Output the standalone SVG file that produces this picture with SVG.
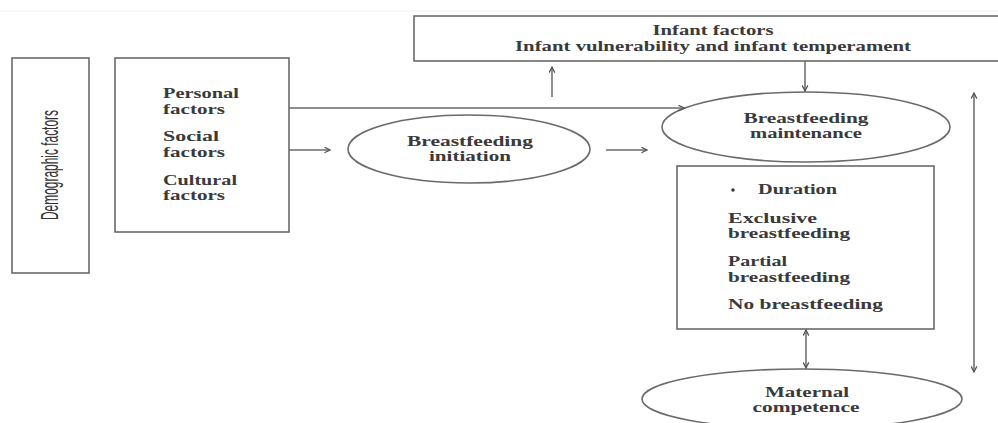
<svg xmlns="http://www.w3.org/2000/svg" width="998" height="423" viewBox="0 0 998 423">
<defs>
<style>
.box{fill:#fff;stroke:#6a6a6a;stroke-width:1.6}
.ln{fill:none;stroke:#6a6a6a;stroke-width:1.5}
.t{font-family:"Liberation Serif","Times New Roman",serif;font-weight:bold;font-size:15px;fill:#3a3a3a}
.e{font-size:14px}
.tc{text-anchor:middle}
.d{font-family:"Liberation Sans",Arial,sans-serif;font-size:24px;fill:#333}
</style>
<marker id="ah" viewBox="0 0 10 10" refX="9" refY="5" markerWidth="7" markerHeight="7" orient="auto-start-reverse" markerUnits="userSpaceOnUse">
<path d="M1,1 L9,5 L1,9" fill="none" stroke="#555" stroke-width="1.8"/>
</marker>
</defs>
<rect width="998" height="423" fill="#fff"/>
<line x1="0" y1="11" x2="998" y2="11" stroke="#f0f0f0" stroke-width="1"/>

<g id="demographic">
<rect class="box" x="12" y="58" width="77" height="215"/>
<text class="d" transform="translate(58,165) rotate(-90)" text-anchor="middle" textLength="110" lengthAdjust="spacingAndGlyphs">Demographic factors</text>
</g>

<g id="factors">
<rect class="box" x="115" y="58" width="174" height="174"/>
<text class="t" x="163" y="98" textLength="76" lengthAdjust="spacingAndGlyphs">Personal</text>
<text class="t" x="163" y="114" textLength="62" lengthAdjust="spacingAndGlyphs">factors</text>
<text class="t" x="163" y="141" textLength="56" lengthAdjust="spacingAndGlyphs">Social</text>
<text class="t" x="163" y="157" textLength="62" lengthAdjust="spacingAndGlyphs">factors</text>
<text class="t" x="163" y="185" textLength="74" lengthAdjust="spacingAndGlyphs">Cultural</text>
<text class="t" x="163" y="200" textLength="62" lengthAdjust="spacingAndGlyphs">factors</text>
</g>

<g id="infant">
<rect class="box" x="414" y="16" width="600" height="45"/>
<text class="t tc" x="713" y="35" textLength="121" lengthAdjust="spacingAndGlyphs">Infant factors</text>
<text class="t tc" x="713" y="51" textLength="396" lengthAdjust="spacingAndGlyphs">Infant vulnerability and infant temperament</text>
</g>

<g id="initiation">
<ellipse class="box" cx="469" cy="149" rx="121" ry="34"/>
<text class="t e tc" x="470" y="146" textLength="126" lengthAdjust="spacingAndGlyphs">Breastfeeding</text>
<text class="t e tc" x="470" y="161" textLength="82" lengthAdjust="spacingAndGlyphs">initiation</text>
</g>

<g id="maintenance">
<ellipse class="box" cx="806" cy="127" rx="144" ry="35"/>
<text class="t e tc" x="806" y="123" textLength="125" lengthAdjust="spacingAndGlyphs">Breastfeeding</text>
<text class="t e tc" x="806" y="138" textLength="112" lengthAdjust="spacingAndGlyphs">maintenance</text>
</g>

<g id="outcomes">
<rect class="box" x="677" y="166" width="257" height="163"/>
<circle cx="733" cy="190" r="1.8" fill="#3a3a3a"/>
<text class="t" x="758" y="194" textLength="79" lengthAdjust="spacingAndGlyphs">Duration</text>
<text class="t" x="728" y="223" textLength="89" lengthAdjust="spacingAndGlyphs">Exclusive</text>
<text class="t" x="728" y="238" textLength="122" lengthAdjust="spacingAndGlyphs">breastfeeding</text>
<text class="t" x="728" y="266" textLength="59" lengthAdjust="spacingAndGlyphs">Partial</text>
<text class="t" x="728" y="282" textLength="122" lengthAdjust="spacingAndGlyphs">breastfeeding</text>
<text class="t" x="728" y="309" textLength="155" lengthAdjust="spacingAndGlyphs">No breastfeeding</text>
</g>

<g id="maternal">
<ellipse class="box" cx="802" cy="399" rx="160" ry="30"/>
<text class="t e tc" x="807" y="397" textLength="84" lengthAdjust="spacingAndGlyphs">Maternal</text>
<text class="t e tc" x="806" y="412" textLength="107" lengthAdjust="spacingAndGlyphs">competence</text>
</g>

<g id="connectors">
<line class="ln" x1="289" y1="108" x2="684" y2="108" marker-end="url(#ah)"/>
<line class="ln" x1="289" y1="150" x2="330" y2="150" marker-end="url(#ah)"/>
<line class="ln" x1="606" y1="150" x2="647" y2="150" marker-end="url(#ah)"/>
<line class="ln" x1="552" y1="97" x2="552" y2="67" marker-end="url(#ah)"/>
<line class="ln" x1="805" y1="61" x2="805" y2="91" marker-end="url(#ah)"/>
<line class="ln" x1="806" y1="330" x2="806" y2="368" marker-start="url(#ah)" marker-end="url(#ah)"/>
<line class="ln" x1="974" y1="93" x2="974" y2="372" marker-start="url(#ah)" marker-end="url(#ah)"/>
</g>
</svg>
